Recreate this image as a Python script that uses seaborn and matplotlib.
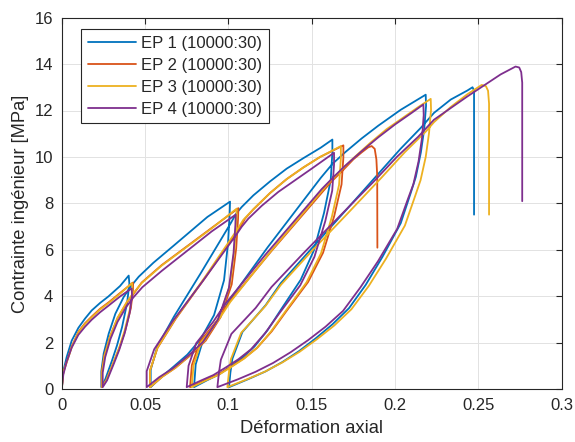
import numpy as np
import pandas as pd
import matplotlib
matplotlib.use('Agg')  # no display
import matplotlib.pyplot as plt
import seaborn as sns

# --- data (strain [-], stress [MPa]) ---
labels = ['EP 1 (10000:30)', 'EP 2 (10000:30)', 'EP 3 (10000:30)', 'EP 4 (10000:30)']
colors = ['#0072BD', '#D95319', '#EDB120', '#7E2F8E']

ep1_strain = [0, 0.001, 0.003, 0.006, 0.010, 0.014, 0.018, 0.023, 0.028, 0.035, 0.0402,
              0.0406, 0.0392, 0.0362, 0.0332, 0.0302, 0.0262, 0.0238,
              0.0238, 0.0252, 0.0282, 0.0322, 0.0372, 0.0412, 0.0462,
              0.055, 0.0674, 0.0874, 0.101,
              0.1008, 0.0998, 0.0974, 0.0914, 0.0834, 0.0754, 0.0674, 0.0600, 0.0534,
              0.0534, 0.0574, 0.0674, 0.0834, 0.1014,
              0.1045, 0.108, 0.115, 0.125, 0.135, 0.145, 0.1554, 0.1624,
              0.1624, 0.1614, 0.1574, 0.1514, 0.1434, 0.1314, 0.1235, 0.1157, 0.1085, 0.1015, 0.0945, 0.0873, 0.0794,
              0.0804, 0.0847, 0.0945, 0.1009, 0.1234, 0.1554, 0.1624,
              0.17, 0.18, 0.19, 0.2034, 0.2154, 0.2184,
              0.2186, 0.2175, 0.2155, 0.2125, 0.2094, 0.2034, 0.1924, 0.1824, 0.1724, 0.1624, 0.1524, 0.1424,
              0.1324, 0.1224, 0.1124, 0.1004,
              0.1012, 0.1024, 0.1084, 0.1224, 0.1314, 0.15, 0.17, 0.19, 0.2034, 0.2154,
              0.2234, 0.2334, 0.2434, 0.2465, 0.2474, 0.2474]
ep1_stress = [0, 0.8, 1.4, 2.1, 2.65, 3.05, 3.4, 3.72, 4.0, 4.45, 4.9,
              4.55, 3.7, 2.68, 1.9, 1.25, 0.45, 0.1,
              0.8, 1.55, 2.4, 3.26, 3.98, 4.41, 4.85,
              5.45, 6.2, 7.42, 8.08,
              7.6, 6.3, 4.7, 3.2, 2.17, 1.5, 1.0, 0.55, 0.1,
              0.85, 1.85, 3.14, 5.0, 7.15,
              7.55, 7.85, 8.35, 8.95, 9.5, 9.95, 10.4, 10.75,
              10.2, 9.0, 7.6, 6.0, 4.72, 3.42, 2.55, 1.85, 1.38, 1.0, 0.65, 0.4, 0.1,
              1.08, 2.1, 3.07, 3.86, 6.1, 9.1, 9.7,
              10.2, 10.8, 11.35, 12.03, 12.55, 12.68,
              12.2, 11.2, 10.2, 9.15, 8.45, 7.15, 5.7, 4.5, 3.5, 2.8, 2.2, 1.65,
              1.18, 0.78, 0.46, 0.1,
              0.72, 1.32, 2.47, 3.63, 4.57, 6.07, 7.67, 9.28, 10.36, 11.25,
              11.9, 12.47, 12.86, 13.0, 12.85, 7.52]

ep2_strain = [0, 0.001, 0.0042, 0.006, 0.0102, 0.014, 0.0182, 0.023, 0.0282, 0.035, 0.0428,
              0.0428, 0.0415, 0.0381, 0.0347, 0.0313, 0.0268, 0.024,
              0.024, 0.0256, 0.0291, 0.0336, 0.0394, 0.0439, 0.048,
              0.06, 0.075, 0.09, 0.106,
              0.1058, 0.1047, 0.102, 0.0954, 0.0864, 0.0774, 0.0684, 0.0604, 0.053,
              0.053, 0.0575, 0.0684, 0.0864, 0.1064,
              0.11, 0.115, 0.125, 0.135, 0.145, 0.155, 0.169,
              0.169, 0.1679, 0.1635, 0.1568, 0.1478, 0.1347, 0.126, 0.1172, 0.1093, 0.1015, 0.0935, 0.0857, 0.077,
              0.0781, 0.0829, 0.0936, 0.1008, 0.1258, 0.1613, 0.169,
              0.175, 0.18, 0.184, 0.186, 0.1878, 0.1888, 0.1893, 0.1894]
ep2_stress = [0, 0.75, 1.45, 1.85, 2.5, 2.85, 3.15, 3.47, 3.75, 4.15, 4.6,
              4.28, 3.5, 2.53, 1.8, 1.2, 0.41, 0.1,
              0.76, 1.47, 2.3, 3.08, 3.77, 4.19, 4.6,
              5.35, 6.15, 6.95, 7.8,
              7.33, 6.08, 4.52, 3.12, 2.1, 1.48, 0.94, 0.55, 0.1,
              0.82, 1.79, 3.04, 4.84, 6.9,
              7.35, 7.75, 8.45, 9.05, 9.55, 10.0, 10.5,
              9.98, 8.82, 7.46, 5.88, 4.62, 3.36, 2.5, 1.79, 1.34, 0.98, 0.63, 0.39, 0.1,
              1.05, 2.05, 3.0, 3.78, 5.95, 8.9, 9.45,
              9.9, 10.2, 10.42, 10.47, 10.35, 9.9, 9.2, 6.1]

ep3_strain = [0, 0.001, 0.0042, 0.006, 0.0102, 0.014, 0.0182, 0.023, 0.0282, 0.035, 0.0422,
              0.0424, 0.0410, 0.0377, 0.0345, 0.0312, 0.0269, 0.0242,
              0.0242, 0.0257, 0.0291, 0.0334, 0.0390, 0.0433, 0.048,
              0.06, 0.075, 0.09, 0.105,
              0.1048, 0.1037, 0.101, 0.0946, 0.0858, 0.0769, 0.0681, 0.0603, 0.053,
              0.053, 0.0574, 0.0681, 0.0858, 0.1054,
              0.109, 0.115, 0.125, 0.135, 0.145, 0.155, 0.1675,
              0.1675, 0.1664, 0.1621, 0.1556, 0.1469, 0.1341, 0.1256, 0.1171, 0.1095, 0.1018, 0.0942, 0.0865, 0.078,
              0.0791, 0.0837, 0.0941, 0.1012, 0.1254, 0.16, 0.1675,
              0.175, 0.185, 0.195, 0.205, 0.214, 0.2214,
              0.2216, 0.2204, 0.2184, 0.2153, 0.2121, 0.2059, 0.1946, 0.1842, 0.1738, 0.1635, 0.1531, 0.1427,
              0.1323, 0.122, 0.1116, 0.0994,
              0.1003, 0.1015, 0.1077, 0.1221, 0.1315, 0.1506, 0.1714, 0.1921, 0.2059, 0.2184,
              0.2234, 0.2334, 0.2434, 0.252, 0.2545, 0.2558, 0.2564, 0.2564]
ep3_stress = [0, 0.75, 1.42, 1.82, 2.47, 2.82, 3.12, 3.44, 3.72, 4.12, 4.58,
              4.25, 3.48, 2.52, 1.8, 1.19, 0.41, 0.1,
              0.76, 1.46, 2.29, 3.07, 3.76, 4.17, 4.58,
              5.33, 6.13, 6.93, 7.78,
              7.31, 6.07, 4.51, 3.11, 2.1, 1.48, 0.93, 0.55, 0.1,
              0.82, 1.79, 3.03, 4.82, 6.89,
              7.3, 7.75, 8.45, 9.05, 9.55, 10.0, 10.47,
              9.95, 8.8, 7.43, 5.86, 4.61, 3.35, 2.5, 1.78, 1.33, 0.97, 0.63, 0.39, 0.1,
              1.05, 2.04, 2.99, 3.77, 5.94, 8.87, 9.42,
              9.95, 10.6, 11.2, 11.7, 12.15, 12.5,
              12.03, 11.04, 10.0, 9.0, 8.33, 7.05, 5.63, 4.45, 3.45, 2.75, 2.16, 1.62,
              1.16, 0.77, 0.45, 0.1,
              0.71, 1.3, 2.44, 3.58, 4.5, 6.0, 7.56, 9.13, 10.21, 11.09,
              11.5, 12.15, 12.7, 13.1, 13.05, 12.85, 12.3, 7.52]

ep4_strain = [0, 0.001, 0.003, 0.006, 0.010, 0.014, 0.018, 0.023, 0.028, 0.035, 0.042,
              0.0422, 0.0408, 0.0377, 0.0345, 0.0314, 0.0272, 0.0246,
              0.0246, 0.0261, 0.0293, 0.0335, 0.0389, 0.0430, 0.0484,
              0.06, 0.075, 0.09, 0.1044,
              0.1042, 0.1031, 0.1003, 0.0937, 0.0846, 0.0756, 0.0665, 0.0585, 0.051,
              0.051, 0.0555, 0.0665, 0.0846, 0.1048,
              0.108, 0.112, 0.12, 0.13, 0.14, 0.15, 0.1634,
              0.1634, 0.1623, 0.1581, 0.1516, 0.1431, 0.1304, 0.122, 0.1136, 0.106, 0.0985, 0.091, 0.0834, 0.075,
              0.0761, 0.0807, 0.0909, 0.0979, 0.1219, 0.156, 0.1634,
              0.17, 0.18, 0.19, 0.2, 0.21, 0.217,
              0.2172, 0.2162, 0.2141, 0.211, 0.2076, 0.2013, 0.1898, 0.1793, 0.1688, 0.1583, 0.1478, 0.1373,
              0.1268, 0.1163, 0.1058, 0.0934,
              0.0943, 0.0955, 0.1018, 0.1164, 0.1259, 0.1453, 0.1663, 0.1873, 0.2013, 0.2139,
              0.2233, 0.2433, 0.2633, 0.2723, 0.2745, 0.2757, 0.2763, 0.2763]
ep4_stress = [0, 0.65, 1.2, 1.8, 2.35, 2.7, 3.0, 3.32, 3.6, 4.0, 4.35,
              4.05, 3.3, 2.4, 1.7, 1.13, 0.39, 0.1,
              0.72, 1.39, 2.18, 2.91, 3.57, 3.96, 4.4,
              5.1, 5.95, 6.8, 7.52,
              7.07, 5.87, 4.36, 3.0, 2.03, 1.43, 0.9, 0.53, 0.1,
              0.79, 1.73, 2.93, 4.66, 6.66,
              7.0, 7.35, 7.9, 8.5, 9.0, 9.5, 10.18,
              9.67, 8.55, 7.23, 5.7, 4.48, 3.26, 2.42, 1.73, 1.3, 0.95, 0.62, 0.38, 0.1,
              1.02, 1.99, 2.91, 3.66, 5.77, 8.62, 9.16,
              9.62, 10.25, 10.85, 11.4, 11.9, 12.26,
              11.8, 10.83, 9.81, 8.83, 8.17, 6.91, 5.52, 4.4, 3.38, 2.7, 2.12, 1.6,
              1.14, 0.76, 0.44, 0.1,
              0.7, 1.28, 2.39, 3.51, 4.41, 5.88, 7.42, 8.95, 10.02, 10.87,
              11.6, 12.6, 13.55, 13.89, 13.85, 13.65, 13.2, 8.1]

x_ticks = [0, 0.05, 0.1, 0.15, 0.2, 0.25, 0.3]
x_ticklabels = ['0', '0.05', '0.1', '0.15', '0.2', '0.25', '0.3']
y_ticks = [0, 2, 4, 6, 8, 10, 12, 14, 16]

# long-form table, row order kept so each cycle is drawn as measured
frames = []
for lab, e, s in zip(labels,
                     [ep1_strain, ep2_strain, ep3_strain, ep4_strain],
                     [ep1_stress, ep2_stress, ep3_stress, ep4_stress]):
    frames.append(pd.DataFrame({'strain': e, 'stress': s, 'essai': lab}))
df = pd.concat(frames, ignore_index=True)

sns.set_theme(style='whitegrid')
plt.rcParams['font.family'] = ['Liberation Sans', 'DejaVu Sans']

fig = plt.figure(figsize=(5.75, 4.42), dpi=100)
ax = fig.add_axes([0.1073, 0.1188, 0.8696, 0.8416])

sns.lineplot(data=df, x='strain', y='stress', hue='essai', palette=colors,
             sort=False, estimator=None, linewidth=1.3, ax=ax)

ax.set_xlim(0, 0.3)
ax.set_ylim(0, 16)
ax.set_xticks(x_ticks)
ax.set_xticklabels(x_ticklabels)
ax.set_yticks(y_ticks)
ax.tick_params(direction='in', length=4, width=0.8, top=True, right=True,
               labelsize=12, colors='#262626', pad=6)
ax.grid(True, color='#e2e2e2', linewidth=0.7)
for sp in ax.spines.values():
    sp.set_color('#262626')
    sp.set_linewidth(0.8)

ax.set_xlabel('Déformation axial', fontsize=13.2, color='#262626', labelpad=5)
ax.set_ylabel('Contrainte ingénieur [MPa]', fontsize=13.2, color='#262626', labelpad=4)

leg = ax.legend(loc='upper left', bbox_to_anchor=(0.0386, 0.969), frameon=True,
                fancybox=False, edgecolor='#262626', framealpha=1, fontsize=12,
                handlelength=2.9, borderpad=0.4, labelspacing=0.42,
                handletextpad=0.3, borderaxespad=0)
leg.get_frame().set_linewidth(0.8)

fig.savefig('out.png', dpi=100)
